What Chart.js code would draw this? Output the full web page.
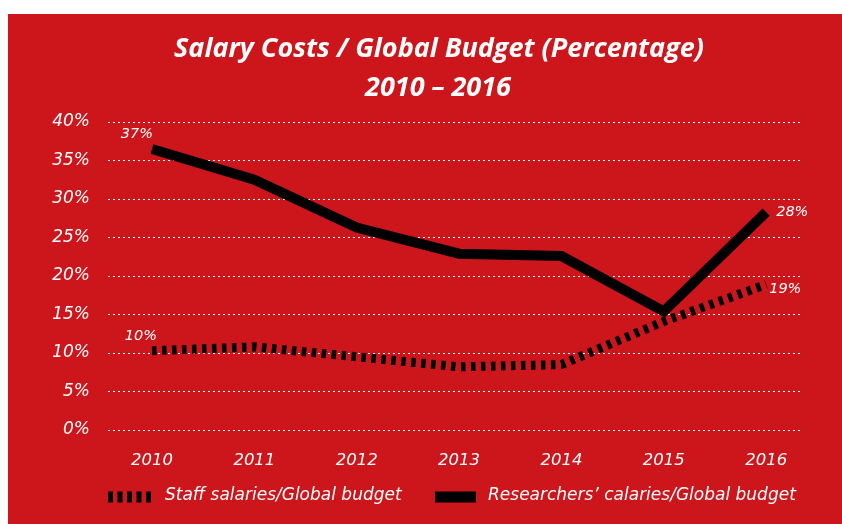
<!DOCTYPE html>
<html><head><meta charset="utf-8">
<script src="https://cdn.jsdelivr.net/npm/chart.js@4.4.1/dist/chart.umd.min.js"></script>
<style>html,body{margin:0;padding:0;background:#fff;}#wrap{width:842px;height:524px;position:relative;}</style>
</head><body><div id="wrap"><canvas id="c" width="842" height="524"></canvas></div>
<script>
const titleLines = ["Salary Costs / Global Budget (Percentage)", "2010 – 2016"];
const years = [2010, 2011, 2012, 2013, 2014, 2015, 2016];
const staffValues = [10.3, 10.8, 9.5, 8.2, 8.5, 14.1, 18.9];
const researcherValues = [36.5, 32.5, 26.3, 22.9, 22.6, 15.4, 28.3];
const staffLabel = "Staff salaries/Global budget";
const researcherLabel = "Researchers’ calaries/Global budget";
const yTicks = [0, 5, 10, 15, 20, 25, 30, 35, 40];
// labelled points: [datasetIndex, pointIndex, text]
const pointLabels = [[1, 0, "37%"], [0, 0, "10%"], [1, 6, "28%"], [0, 6, "19%"]];

const RED = '#CC161C';
const FONT = '"DejaVu Sans", sans-serif';
const TFONT = '"Open Sans", sans-serif';

const bgPlugin = {
  id: 'bg',
  beforeDraw(chart) {
    const ctx = chart.ctx;
    ctx.save();
    ctx.fillStyle = RED;
    ctx.fillRect(8, 14, chart.width - 8, chart.height - 14);
    ctx.restore();
  }
};

const decoPlugin = {
  id: 'deco',
  afterDraw(chart) {
    const ctx = chart.ctx;
    ctx.save();
    // title
    ctx.fillStyle = '#fff';
    ctx.textAlign = 'center';
    ctx.textBaseline = 'middle';
    ctx.font = 'italic 700 27px ' + TFONT;
    ctx.fillText(titleLines[0], 439, 49);
    ctx.fillText(titleLines[1], 438, 88);
    // point labels
    ctx.font = 'italic 400 14.5px ' + FONT;
    pointLabels.forEach(([di, pi, txt]) => {
      const p = chart.getDatasetMeta(di).data[pi];
      if (pi === 0) {
        ctx.textAlign = 'right';
        ctx.fillText(txt, p.x + (di === 1 ? 1 : 5), p.y - (di === 1 ? 15 : 14));
      } else {
        ctx.textAlign = 'left';
        ctx.fillText(txt, p.x + (di === 1 ? 10 : 3), p.y + (di === 1 ? 0 : 5));
      }
    });
    // legend
    const ly = 497;
    ctx.strokeStyle = '#000';
    ctx.lineWidth = 11;
    ctx.setLineDash([5, 4.5]);
    ctx.beginPath(); ctx.moveTo(108, ly); ctx.lineTo(152, ly); ctx.stroke();
    ctx.setLineDash([]);
    ctx.fillStyle = '#000';
    ctx.fillRect(435, ly - 5.5, 41, 11);
    ctx.fillStyle = '#fff';
    ctx.textAlign = 'left';
    ctx.font = 'italic 400 17px ' + FONT;
    ctx.fillText(chart.data.datasets[0].label, 165, ly - 1);
    ctx.fillText(chart.data.datasets[1].label, 488, ly - 1);
    ctx.restore();
  }
};

new Chart(document.getElementById('c'), {
  type: 'line',
  data: {
    datasets: [
      {
        label: staffLabel,
        data: years.map((y, i) => ({x: y, y: staffValues[i]})),
        borderColor: '#000', borderWidth: 9, borderDash: [4.5, 5.5],
        borderCapStyle: 'butt', borderJoinStyle: 'miter',
        pointRadius: 0, tension: 0, fill: false
      },
      {
        label: researcherLabel,
        data: years.map((y, i) => ({x: y, y: researcherValues[i]})),
        borderColor: '#000', borderWidth: 10,
        borderCapStyle: 'butt', borderJoinStyle: 'miter',
        pointRadius: 0, tension: 0, fill: false
      }
    ]
  },
  options: {
    responsive: false, animation: false,
    layout: { padding: { top: 122, right: 40, left: 0, bottom: 0 } },
    plugins: { legend: { display: false }, title: { display: false }, tooltip: { enabled: false } },
    scales: {
      x: {
        type: 'linear', min: 2009.57, max: 2016.35,
        afterBuildTicks: s => { s.ticks = years.map(v => ({value: v})); },
        afterFit: s => { s.height = 94; },
        grid: { display: false }, border: { display: false },
        ticks: { color: '#fff', padding: 13, font: { family: FONT, size: 16.5, style: 'italic' }, callback: v => String(v) }
      },
      y: {
        min: 0, max: 40,
        afterBuildTicks: s => { s.ticks = yTicks.map(v => ({value: v})); },
        afterFit: s => { s.width = 108; },
        grid: { color: '#fff', lineWidth: 1, drawTicks: false },
        border: { display: false, dash: [2, 3] },
        ticks: { color: '#fff', padding: 18, font: { family: FONT, size: 17, style: 'italic' }, callback: v => v + '%' }
      }
    }
  },
  plugins: [bgPlugin, decoPlugin]
});
</script></body></html>
